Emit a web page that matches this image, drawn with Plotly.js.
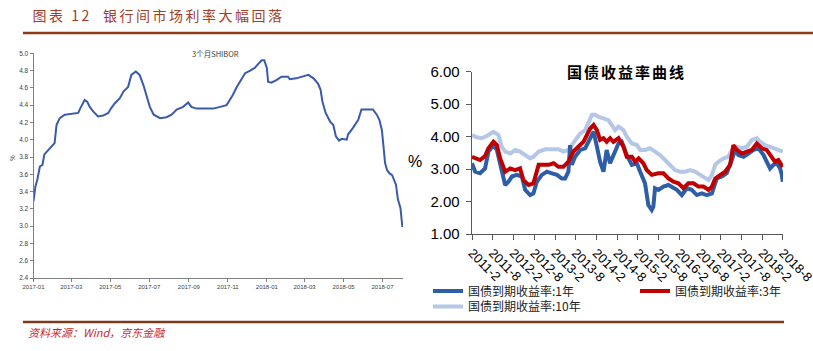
<!DOCTYPE html>
<html><head><meta charset="utf-8">
<script src="https://cdn.plot.ly/plotly-3.0.1.min.js"></script>
<style>html,body{margin:0;padding:0;background:#fff}#c{width:813px;height:351px}</style>
</head><body><div id="c"></div><script>
// ---- Left chart: 3个月SHIBOR ----
const shiborDates = ['2017-01-01','2017-01-04','2017-01-07','2017-01-11','2017-01-15','2017-01-18','2017-01-24','2017-02-01','2017-02-03','2017-02-06','2017-02-11','2017-02-19','2017-03-02','2017-03-12','2017-03-15','2017-03-19','2017-03-22','2017-03-26','2017-03-30','2017-04-04','2017-04-12','2017-04-20','2017-04-28','2017-05-02','2017-05-08','2017-05-16','2017-05-22','2017-05-29','2017-06-03','2017-06-10','2017-06-16','2017-06-22','2017-06-27','2017-07-02','2017-07-08','2017-07-18','2017-07-28','2017-08-05','2017-08-13','2017-08-23','2017-08-31','2017-09-05','2017-09-13','2017-09-29','2017-10-09','2017-10-20','2017-10-30','2017-11-04','2017-11-09','2017-11-15','2017-11-20','2017-11-28','2017-12-06','2017-12-13','2017-12-19','2017-12-24','2017-12-28','2018-01-01','2018-01-03','2018-01-08','2018-01-16','2018-01-24','2018-02-03','2018-02-06','2018-02-16','2018-02-27','2018-03-07','2018-03-15','2018-03-22','2018-03-26','2018-03-29','2018-04-03','2018-04-10','2018-04-15','2018-04-19','2018-04-24','2018-04-28','2018-05-06','2018-05-08','2018-05-16','2018-05-24','2018-05-29','2018-06-06','2018-06-16','2018-06-22','2018-06-26','2018-06-30','2018-07-02','2018-07-05','2018-07-08','2018-07-12','2018-07-16','2018-07-20','2018-07-22','2018-07-25','2018-07-29','2018-08-01'];
const shiborValues = [3.29,3.46,3.54,3.69,3.71,3.83,3.88,3.94,3.96,4.17,4.25,4.29,4.30,4.31,4.36,4.42,4.46,4.44,4.38,4.33,4.27,4.28,4.31,4.36,4.42,4.48,4.56,4.61,4.75,4.79,4.75,4.63,4.50,4.38,4.29,4.25,4.26,4.29,4.35,4.38,4.43,4.38,4.36,4.36,4.36,4.38,4.40,4.46,4.52,4.61,4.67,4.77,4.80,4.83,4.88,4.92,4.92,4.83,4.67,4.66,4.69,4.73,4.73,4.70,4.71,4.73,4.75,4.71,4.65,4.58,4.44,4.31,4.21,4.17,4.04,3.99,4.01,4.00,4.06,4.14,4.23,4.35,4.35,4.35,4.29,4.23,4.11,3.96,3.73,3.65,3.61,3.59,3.52,3.48,3.31,3.21,2.99];

// ---- Right chart: 国债收益率曲线 ----
const y1Dates = ['2011-02-01','2011-03-01','2011-04-13','2011-05-27','2011-06-26','2011-08-09','2011-09-08','2011-10-07','2011-11-20','2011-12-19','2012-01-18','2012-03-02','2012-04-15','2012-05-14','2012-06-27','2012-07-26','2012-08-25','2012-10-08','2012-11-22','2013-01-05','2013-02-18','2013-04-02','2013-05-01','2013-05-30','2013-06-14','2013-06-29','2013-07-28','2013-09-11','2013-10-25','2013-12-08','2014-01-07','2014-02-05','2014-03-05','2014-04-04','2014-05-02','2014-06-01','2014-06-30','2014-08-14','2014-09-12','2014-10-26','2014-12-10','2015-01-23','2015-02-21','2015-04-05','2015-05-04','2015-06-03','2015-06-17','2015-07-02','2015-08-01','2015-09-14','2015-10-28','2015-11-26','2016-01-10','2016-02-23','2016-04-07','2016-05-20','2016-07-04','2016-08-17','2016-09-30','2016-11-14','2016-12-27','2017-02-10','2017-03-24','2017-05-08','2017-06-06','2017-07-05','2017-08-19','2017-10-02','2017-11-15','2017-12-29','2018-02-12','2018-03-11','2018-04-10','2018-05-09','2018-06-08','2018-07-07','2018-07-21','2018-07-31'];
const y1Values = [3.18,2.92,2.87,3.02,3.54,3.74,3.59,3.13,2.51,2.61,2.77,2.82,2.77,2.36,2.20,2.25,2.61,2.82,2.92,2.87,2.82,2.71,2.71,2.92,3.74,3.13,3.38,3.59,3.64,3.95,4.15,3.69,3.23,2.92,3.59,3.18,3.43,3.79,3.84,3.43,3.13,3.18,2.92,2.56,1.89,1.74,1.84,2.41,2.36,2.46,2.51,2.46,2.36,2.20,2.41,2.36,2.20,2.25,2.20,2.25,2.71,2.77,2.87,3.28,3.59,3.43,3.38,3.48,3.59,3.64,3.43,3.23,3.02,3.13,3.18,3.02,2.85,2.61];

const y3Dates = ['2011-02-01','2011-03-01','2011-04-13','2011-05-27','2011-06-26','2011-08-09','2011-09-08','2011-10-07','2011-11-20','2012-01-04','2012-02-17','2012-03-30','2012-04-29','2012-06-13','2012-07-26','2012-09-10','2012-10-23','2012-12-06','2013-01-20','2013-03-03','2013-04-16','2013-05-30','2013-07-13','2013-08-27','2013-10-10','2013-11-09','2013-12-08','2014-01-07','2014-02-05','2014-03-05','2014-04-04','2014-05-02','2014-06-01','2014-06-30','2014-08-14','2014-09-27','2014-10-26','2014-12-10','2015-01-08','2015-02-07','2015-03-21','2015-04-20','2015-06-03','2015-08-01','2015-09-14','2015-10-28','2015-12-11','2016-01-24','2016-03-08','2016-04-21','2016-06-05','2016-07-18','2016-09-01','2016-10-15','2016-11-14','2016-12-13','2017-01-26','2017-03-10','2017-04-23','2017-05-22','2017-06-21','2017-08-04','2017-09-17','2017-11-01','2017-12-14','2018-01-28','2018-03-11','2018-04-24','2018-05-23','2018-06-22','2018-07-31'];
const y3Values = [3.38,3.33,3.28,3.40,3.64,3.84,3.74,3.33,2.92,3.02,2.97,3.02,2.66,2.51,2.56,3.13,3.13,3.13,3.18,3.07,3.07,3.23,3.54,3.69,3.84,4.05,4.25,4.36,4.20,3.90,3.95,3.84,3.95,3.84,3.95,3.69,3.38,3.38,3.23,3.33,3.18,2.97,2.82,2.87,2.87,2.71,2.61,2.56,2.41,2.56,2.56,2.46,2.46,2.36,2.46,2.71,2.82,2.92,3.13,3.74,3.59,3.48,3.54,3.59,3.79,3.64,3.59,3.38,3.23,3.28,3.07];

const y10Dates = ['2011-02-01','2011-03-14','2011-04-28','2011-06-11','2011-08-09','2011-09-22','2011-10-21','2011-11-20','2012-01-04','2012-02-17','2012-03-30','2012-05-14','2012-06-27','2012-07-26','2012-09-10','2012-11-08','2013-01-05','2013-03-03','2013-04-16','2013-05-30','2013-06-29','2013-07-28','2013-09-11','2013-10-25','2013-11-23','2013-12-23','2014-01-21','2014-02-19','2014-04-04','2014-05-17','2014-06-15','2014-07-15','2014-08-14','2014-09-27','2014-10-26','2014-12-10','2015-01-23','2015-02-21','2015-04-05','2015-05-18','2015-07-02','2015-08-15','2015-09-28','2015-11-12','2015-12-25','2016-02-09','2016-03-22','2016-05-06','2016-06-19','2016-08-03','2016-09-16','2016-10-15','2016-11-14','2016-12-13','2017-01-12','2017-02-25','2017-04-08','2017-05-08','2017-06-21','2017-08-04','2017-09-17','2017-11-01','2017-12-14','2018-01-13','2018-02-26','2018-04-10','2018-05-23','2018-07-07','2018-07-31'];
const y10Values = [4.05,3.98,3.95,4.02,4.15,4.05,3.69,3.54,3.48,3.59,3.54,3.43,3.33,3.38,3.54,3.61,3.62,3.61,3.54,3.59,3.74,3.90,4.10,4.20,4.46,4.67,4.67,4.61,4.56,4.51,4.36,4.20,4.31,4.20,4.00,3.79,3.74,3.59,3.59,3.64,3.54,3.43,3.28,3.13,2.97,2.92,2.92,2.97,2.92,2.82,2.71,2.66,2.82,3.13,3.23,3.33,3.38,3.59,3.69,3.64,3.69,3.90,3.95,3.84,3.74,3.69,3.64,3.59,3.54];

const bondTickVals = ['2011-02-01','2011-08-01','2012-02-01','2012-08-01','2013-02-01','2013-08-01','2014-02-01','2014-08-01','2015-02-01','2015-08-01','2016-02-01','2016-08-01','2017-02-01','2017-08-01','2018-02-01','2018-08-01'];
const bondTickText = ['2011-2','2011-8','2012-2','2012-8','2013-2','2013-8','2014-2','2014-8','2015-2','2015-8','2016-2','2016-8','2017-2','2017-8','2018-2','2018-8'];

const names = ['国债到期收益率:1年','国债到期收益率:3年','国债到期收益率:10年'];

const W = 813, H = 351;
const px = v => v / W, py = v => 1 - v / H;
const CJK = 'Noto Sans CJK SC';
const ARIAL = 'Liberation Sans, Arial, sans-serif';

const traces = [
  {x: shiborDates, y: shiborValues, type: 'scatter', mode: 'lines', xaxis: 'x', yaxis: 'y',
   line: {color: '#3A5BA9', width: 2}, showlegend: false, hoverinfo: 'skip'},
  {x: y10Dates, y: y10Values, type: 'scatter', mode: 'lines', xaxis: 'x2', yaxis: 'y2', name: names[2],
   line: {color: '#B4C7E7', width: 4}, legend: 'legend2'},
  {x: y1Dates, y: y1Values, type: 'scatter', mode: 'lines', xaxis: 'x2', yaxis: 'y2', name: names[0],
   line: {color: '#2F5EA9', width: 4}, legend: 'legend', legendrank: 1},
  {x: y3Dates, y: y3Values, type: 'scatter', mode: 'lines', xaxis: 'x2', yaxis: 'y2', name: names[1],
   line: {color: '#C00000', width: 4}, legend: 'legend', legendrank: 2}
];

const layout = {
  width: W, height: H,
  margin: {l: 0, r: 0, t: 0, b: 0, autoexpand: false},
  paper_bgcolor: '#fff', plot_bgcolor: 'rgba(0,0,0,0)',
  showlegend: true,
  xaxis: {domain: [px(33.5), px(403)], anchor: 'y', type: 'date', range: ['2017-01-01', '2018-08-02'],
    tick0: '2017-01-01', dtick: 'M2', tickformat: '%Y-%m', ticks: 'outside', ticklen: 3, tickcolor: '#808080',
    showline: true, linecolor: '#808080', linewidth: 1, showgrid: false, zeroline: false,
    tickfont: {family: ARIAL, size: 6, color: '#404040'}},
  yaxis: {domain: [py(278), py(53.3)], anchor: 'x', range: [2.4, 5.0], dtick: 0.2, tickformat: '.1f',
    ticks: 'outside', ticklen: 3, tickcolor: '#808080', showline: true, linecolor: '#808080', linewidth: 1,
    showgrid: false, zeroline: false, tickfont: {family: ARIAL, size: 6.5, color: '#404040'}},
  xaxis2: {domain: [px(472), px(783)], anchor: 'y2', type: 'date', range: ['2011-02-01', '2018-08-02'],
    tickmode: 'array', tickvals: bondTickVals, ticktext: bondTickText, tickangle: 45, ticklabeloverflow: 'allow',
    ticks: 'outside', ticklen: 5, tickcolor: '#595959', showline: true, linecolor: '#595959', linewidth: 1.3,
    showgrid: false, zeroline: false, tickfont: {family: ARIAL, size: 13, color: '#000'}},
  yaxis2: {domain: [py(234), py(71.7)], anchor: 'x2', range: [1, 6], dtick: 1, tickformat: '.2f',
    ticks: 'outside', ticklen: 5, tickcolor: '#595959', showline: true, linecolor: '#595959', linewidth: 1.3,
    showgrid: false, zeroline: false, ticklabelstandoff: 3, tickfont: {family: ARIAL, size: 15, color: '#000'}},
  legend: {orientation: 'h', x: px(428), xanchor: 'left', y: py(291), yanchor: 'middle',
    entrywidth: 162, entrywidthmode: 'pixels', bgcolor: 'rgba(0,0,0,0)',
    font: {family: CJK, size: 12, color: '#222'}, itemclick: false},
  legend2: {orientation: 'h', x: px(428), xanchor: 'left', y: py(306.5), yanchor: 'middle', bgcolor: 'rgba(0,0,0,0)',
    font: {family: CJK, size: 12, color: '#222'}, itemclick: false},
  shapes: [
    {type: 'line', xref: 'paper', yref: 'paper', x0: px(23), x1: 1, y0: py(33), y1: py(33), line: {color: '#8E3B17', width: 2.5}},
    {type: 'line', xref: 'paper', yref: 'paper', x0: px(23), x1: px(784), y0: py(322), y1: py(322), line: {color: '#7A3A1C', width: 2.5}}
  ],
  annotations: [
    {text: '图表 12  银行间市场利率大幅回落', xref: 'paper', yref: 'paper', x: px(158), y: py(15), xanchor: 'center', yanchor: 'middle',
     showarrow: false, font: {family: CJK, size: 14, color: '#A0402A'}},
    {text: '资料来源：Wind，京东金融', xref: 'paper', yref: 'paper', x: px(26), y: py(332), xanchor: 'left', yanchor: 'middle',
     showarrow: false, font: {family: CJK, size: 11, color: '#C8282E', style: 'italic'}},
    {text: '3个月SHIBOR', xref: 'paper', yref: 'paper', x: px(215), y: py(53), xanchor: 'center', yanchor: 'middle',
     showarrow: false, font: {family: CJK, size: 7.5, color: '#404040'}},
    {text: '%', xref: 'paper', yref: 'paper', x: px(12), y: py(158), xanchor: 'center', yanchor: 'middle', textangle: -90,
     showarrow: false, font: {family: ARIAL, size: 6.5, color: '#404040'}},
    {text: '国债收益率曲线', xref: 'paper', yref: 'paper', x: px(626), y: py(72), xanchor: 'center', yanchor: 'middle',
     showarrow: false, font: {family: CJK, size: 15, color: '#000', weight: 'bold'}},
    {text: '%', xref: 'paper', yref: 'paper', x: px(415), y: py(161), xanchor: 'center', yanchor: 'middle',
     showarrow: false, font: {family: ARIAL, size: 16, color: '#000'}}
  ]
};

Plotly.newPlot('c', traces, layout, {displayModeBar: false, staticPlot: true}).then(() => {
  const a = document.querySelector('.annotation[data-index="0"] text');
  if (a) a.style.letterSpacing = '2.5px';
  const t = document.querySelector('.annotation[data-index="4"] text');
  if (t) t.style.letterSpacing = '2px';
});
</script></body></html>
